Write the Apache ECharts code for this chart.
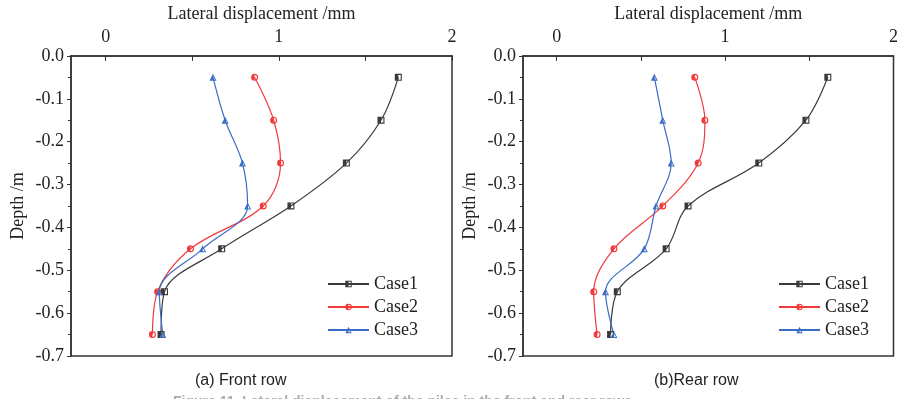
<!DOCTYPE html>
<html lang="en">
<head>
    <meta charset="UTF-8">
    <title>Lateral displacement</title>
    <style>
        html, body { margin: 0; padding: 0; background: #fff; }
        #chart1 { width: 901px; height: 399px; }
    </style>
</head>
<body>
<div id="chart1"></div>
<script type="text/javascript" src="https://cdn.jsdelivr.net/npm/echarts@6/dist/echarts.min.js"></script>
<script type="text/javascript">
    // depth of the measuring points (m)
    var depth = [-0.05, -0.15, -0.25, -0.35, -0.45, -0.55, -0.65];
    var caseNames = ['Case1', 'Case2', 'Case3'];

    // (a) front row, lateral displacement (mm)
    var front1 = [1.69, 1.59, 1.39, 1.07, 0.67, 0.34, 0.32];
    var front2 = [0.86, 0.97, 1.01, 0.91, 0.49, 0.30, 0.27];
    var front3 = [0.62, 0.69, 0.79, 0.82, 0.56, 0.31, 0.33];

    // (b) rear row
    var rear1 = [1.61, 1.48, 1.20, 0.78, 0.65, 0.36, 0.32];
    var rear2 = [0.82, 0.88, 0.84, 0.63, 0.34, 0.22, 0.24];
    var rear3 = [0.58, 0.63, 0.68, 0.59, 0.52, 0.29, 0.34];

    var xLabels = [0, 1, 2];
    var xTicks = [0, 0.5, 1, 1.5, 2];

    var colors = ['#3a3a3a', '#f03a3a', '#3a6cc6'];
    // half filled markers (left half solid, right half hollow)
    var symbols = [
        'path://M0,0 L10,0 L10,10 L0,10 Z M5,1.6 L5,8.4 L8.4,8.4 L8.4,1.6 Z',
        'path://M5,0 A5,5 0 1,1 5,10 A5,5 0 1,1 5,0 Z M5,1.6 L5,8.4 A3.4,3.4 0 0,0 5,1.6 Z',
        'path://M5,0 L10,10 L0,10 Z M5,3.2 L5,8.5 L7.9,8.5 Z'
    ];
    var serif = 'Liberation Serif';

    function pairs(xs) {
        var d = [];
        for (var i = 0; i < xs.length; i++) {
            d.push([xs[i], depth[i]]);
        }
        return d;
    }

    var Item = function (name, xs, k, g) {
        return {
            name: name,
            type: 'line',
            xAxisIndex: g,
            yAxisIndex: g,
            smooth: 0.35,
            symbol: symbols[k],
            symbolSize: 7,
            showSymbol: true,
            lineStyle: { color: colors[k], width: 1.2 },
            itemStyle: { color: colors[k], borderWidth: 0 },
            data: pairs(xs)
        };
    };

    function xAx(g) {
        return {
            type: 'value',
            gridIndex: g,
            position: 'top',
            min: -0.2,
            max: 2,
            name: 'Lateral displacement /mm',
            nameLocation: 'middle',
            nameGap: 29,
            nameTextStyle: { fontFamily: serif, fontSize: 18, color: '#222' },
            axisLine: { show: true, onZero: false, lineStyle: { color: '#333', width: 1.5 } },
            axisTick: { show: true, inside: true, length: 5, customValues: xTicks, lineStyle: { color: '#333' } },
            axisLabel: { customValues: xLabels, fontFamily: serif, fontSize: 18, color: '#222', margin: 10 },
            splitLine: { show: false }
        };
    }

    function yAx(g) {
        return {
            type: 'value',
            gridIndex: g,
            min: -0.7,
            max: 0,
            interval: 0.1,
            name: 'Depth /m',
            nameLocation: 'middle',
            nameGap: 44,
            nameTextStyle: { fontFamily: serif, fontSize: 18, color: '#222' },
            axisLine: { show: true, onZero: false, lineStyle: { color: '#333', width: 1.5 } },
            axisTick: { show: true, length: 4, lineStyle: { color: '#333' } },
            minorTick: { show: true, splitNumber: 2, length: 3, lineStyle: { color: '#333' } },
            axisLabel: {
                fontFamily: serif, fontSize: 18, color: '#222', margin: 7,
                formatter: function (v) { return v.toFixed(1); }
            },
            splitLine: { show: false }
        };
    }

    function legendAt(left) {
        return {
            left: left,
            top: 270,
            orient: 'vertical',
            itemGap: 5,
            itemWidth: 41,
            itemHeight: 8,
            data: caseNames.map(function (n) { return { name: n }; }),
            textStyle: { fontFamily: serif, fontSize: 18, color: '#222' }
        };
    }

    var option = {
        animation: false,
        backgroundColor: '#fff',
        grid: [
            { left: 71, top: 51, width: 381, height: 305, show: true, borderColor: '#333', borderWidth: 1.5 },
            { left: 523, top: 52, width: 376, height: 304, show: true, borderColor: '#333', borderWidth: 1.5 }
        ],
        xAxis: [xAx(0), xAx(1)],
        yAxis: [yAx(0), yAx(1)],
        legend: [legendAt(322), legendAt(773)],
        series: [],
        graphic: [
            { type: 'text', left: 195, top: 373, style: { text: '(a) Front row', font: '16px "Liberation Sans Narrow", "Liberation Sans", sans-serif', fill: '#222' } },
            { type: 'text', left: 654, top: 373, style: { text: '(b)Rear row', font: '16px "Liberation Sans Narrow", "Liberation Sans", sans-serif', fill: '#222' } },
            { type: 'text', left: 173, top: 395, style: { text: 'Figure 11  Lateral displacement of the piles in the front and rear rows', font: 'bold 14px "Liberation Sans", sans-serif', fill: '#aaa' } }
        ]
    };

    // front row in grid 0, rear row in grid 1
    option.series.push(new Item('Case1', front1, 0, 0));
    option.series.push(new Item('Case2', front2, 1, 0));
    option.series.push(new Item('Case3', front3, 2, 0));
    option.series.push(new Item('Case1', rear1, 0, 1));
    option.series.push(new Item('Case2', rear2, 1, 1));
    option.series.push(new Item('Case3', rear3, 2, 1));

    var myChart = echarts.init(document.getElementById('chart1'));
    myChart.setOption(option);
</script>
</body>
</html>
